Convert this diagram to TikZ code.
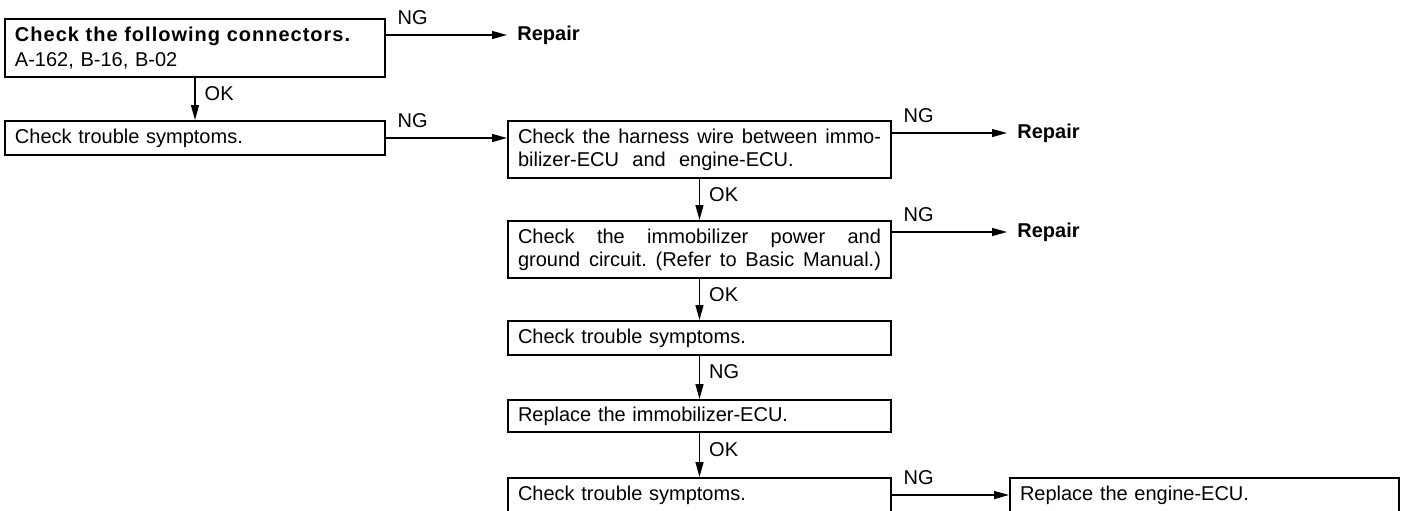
\documentclass[tikz,border=0pt]{standalone}
\usepackage{fontspec}
\setmainfont{Liberation Sans}
\usetikzlibrary{arrows.meta}

\begin{document}
\begin{tikzpicture}[x=0.5pt,y=-0.5pt,font=\fontsize{10}{11.5}\selectfont,
  box/.style={draw,line width=1pt,anchor=north west,inner xsep=5pt,inner ysep=0pt,align=left},
  lbox/.style={box,minimum width=190pt,text width=180pt},
  mbox/.style={box,minimum width=191.5pt,text width=181.5pt},
  rbox/.style={box,minimum width=194.5pt,text width=184.5pt},
  arr/.style={line width=0.7pt,-{Triangle[length=7.5pt,width=4pt]}},
  repair/.style={anchor=west,inner xsep=5pt,inner ysep=0pt,font=\fontsize{10}{11.5}\selectfont\bfseries},
  ng/.style={anchor=south west,inner sep=0pt,xshift=5.5pt,yshift=5pt},
  ok/.style={anchor=west,inner sep=0pt,xshift=4.5pt,pos=0.37}]
\useasboundingbox (0,0) rectangle (1404,510);
% left column
\node[lbox,minimum height=29pt] (conn) at (4,18) {{\bfseries\addfontfeature{LetterSpace=5}Check the following connectors.}\\[1pt]A-162, B-16, B-02};
\node[lbox,minimum height=17pt] (sym1) at (4,120) {Check trouble symptoms.};
% middle column
\node[mbox,minimum height=28.5pt] (harn) at (507,120) {Check\hfill the\hfill harness\hfill wire\hfill between\hfill immo-\\bilizer-ECU~ and~ engine-ECU.};
\node[mbox,minimum height=28.5pt] (pwr) at (507,220) {Check\hfill the\hfill immobilizer\hfill power\hfill and\\ground\hfill circuit.\hfill (Refer\hfill to\hfill Basic\hfill Manual.)};
\node[mbox,minimum height=17pt] (sym2) at (507,320) {Check trouble symptoms.};
\node[mbox,minimum height=16pt] (immo) at (507,399) {Replace the immobilizer-ECU.};
\node[mbox,minimum height=17pt] (sym3) at (507,477) {Check trouble symptoms.};
% right side
\node[rbox,minimum height=17pt] (eng) at (1009,477) {Replace the engine-ECU.};
\node[repair] (rep1) at (507,35) {Repair};
\node[repair] (rep2) at (1007,133) {Repair};
\node[repair] (rep3) at (1007,232) {Repair};
% connectors
\draw[arr] (conn.east |- rep1.west) node[ng] {NG} -- (rep1.west);
\draw[arr] (conn.south) -- node[ok] {OK} (sym1.north);
\draw[arr] (sym1.east) node[ng] {NG} -- (sym1.east -| harn.west);
\draw[arr] (harn.east |- rep2.west) node[ng] {NG} -- (rep2.west);
\draw[arr] (harn.south) -- node[ok] {OK} (pwr.north);
\draw[arr] (pwr.east |- rep3.west) node[ng] {NG} -- (rep3.west);
\draw[arr] (pwr.south) -- node[ok] {OK} (sym2.north);
\draw[arr] (sym2.south) -- node[ok] {NG} (immo.north);
\draw[arr] (immo.south) -- node[ok] {OK} (sym3.north);
\draw[arr] (sym3.east) node[ng] {NG} -- (eng.west);
\end{tikzpicture}
\end{document}
